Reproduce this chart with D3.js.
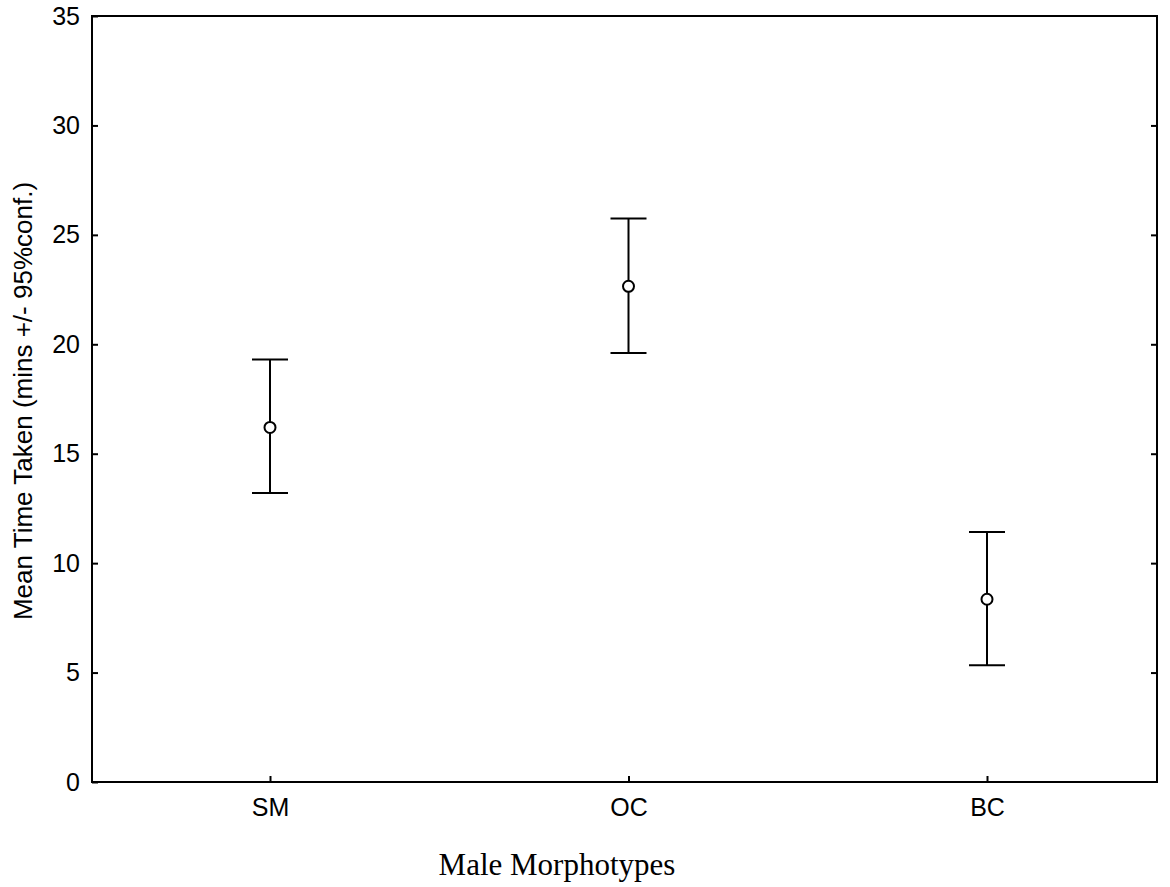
<!DOCTYPE html>
<html><head><meta charset="utf-8">
<script src="https://cdn.jsdelivr.net/npm/d3@7"></script>
<style>body{margin:0;background:#fff}</style>
</head><body>
<svg id="c" width="1170" height="887"></svg>
<script>
const categories = ["SM", "OC", "BC"];
const means = [16.2, 22.65, 8.35];
const upper = [19.3, 25.75, 11.42];
const lower = [13.2, 19.6, 5.33];
const yTicks = [0, 5, 10, 15, 20, 25, 30, 35];

const svg = d3.select("#c");
const L = 92, R = 1157, T = 16, B = 782;
const y = d3.scaleLinear().domain([0, 35]).range([B, T]);
const x = d3.scalePoint().domain(categories).range([270, 987]);

const sans = "Liberation Sans, Arial, sans-serif";

// frame
svg.append("rect").attr("x", L).attr("y", T).attr("width", R - L).attr("height", B - T)
  .attr("fill", "none").attr("stroke", "#000").attr("stroke-width", 2);

// left axis
const gl = svg.append("g").attr("transform", `translate(${L},0)`)
  .call(d3.axisLeft(y).tickValues(yTicks).tickSize(-6).tickPadding(12).tickFormat(d3.format("d")));
gl.select(".domain").remove();
gl.selectAll("line").attr("stroke-width", 2);
gl.selectAll("text").attr("font-family", sans).attr("font-size", 25).attr("fill", "#000");

// right axis ticks
const gr = svg.append("g").attr("transform", `translate(${R},0)`)
  .call(d3.axisRight(y).tickValues(yTicks.slice(1, -1)).tickSize(-6).tickFormat(""));
gr.select(".domain").remove();
gr.selectAll("line").attr("stroke-width", 2);

// bottom axis
const gb = svg.append("g").attr("transform", `translate(0,${B})`)
  .call(d3.axisBottom(x).tickSize(-6).tickPadding(16));
gb.select(".domain").remove();
gb.selectAll("line").attr("stroke-width", 2);
gb.selectAll("text").attr("font-family", sans).attr("font-size", 25).attr("fill", "#000");

// error bars
const data = categories.map((c, i) => ({c, m: means[i], u: upper[i], l: lower[i]}));
const g = svg.append("g").attr("stroke", "#000").attr("stroke-width", 2);
g.selectAll(".v").data(data).join("line")
  .attr("x1", d => x(d.c)).attr("x2", d => x(d.c))
  .attr("y1", d => y(d.u)).attr("y2", d => y(d.l));
g.selectAll(".cu").data(data).join("line")
  .attr("x1", d => x(d.c) - 18).attr("x2", d => x(d.c) + 18)
  .attr("y1", d => y(d.u)).attr("y2", d => y(d.u));
g.selectAll(".cl").data(data).join("line")
  .attr("x1", d => x(d.c) - 18).attr("x2", d => x(d.c) + 18)
  .attr("y1", d => y(d.l)).attr("y2", d => y(d.l));
g.selectAll("circle").data(data).join("circle")
  .attr("cx", d => x(d.c)).attr("cy", d => y(d.m)).attr("r", 5.5)
  .attr("fill", "#fff");

// titles
svg.append("text").attr("x", 557).attr("y", 875).attr("text-anchor", "middle")
  .attr("font-family", "Liberation Serif, Times New Roman, serif").attr("font-size", 31)
  .text("Male Morphotypes");
svg.append("text").attr("transform", `translate(32,401) rotate(-90)`)
  .attr("text-anchor", "middle").attr("font-family", sans).attr("font-size", 26)
  .text("Mean Time Taken (mins +/- 95%conf.)");
</script>
</body></html>
